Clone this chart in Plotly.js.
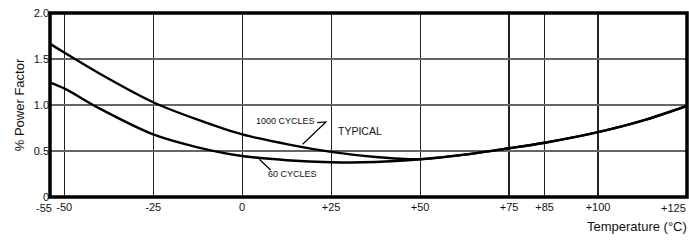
<!DOCTYPE html>
<html>
<head>
<meta charset="utf-8">
<script src="https://cdn.plot.ly/plotly-3.0.1.min.js"></script>
<style>
html,body{margin:0;padding:0;background:#fff;}
#chart{width:689px;height:240px;}
</style>
</head>
<body>
<div id="chart"></div>
<script>
// Data
const tempC   = [-55, -50, -40, -25, -12.5, 0, 12.5, 25, 37.5, 50, 62.5, 75, 85, 100, 112.5, 125];
const pf1000  = [1.69, 1.57, 1.34, 1.03, 0.84, 0.68, 0.575, 0.49, 0.435, 0.41, 0.46, 0.53, 0.59, 0.705, 0.83, 0.99];
const pf60    = [1.26, 1.18, 0.96, 0.68, 0.54, 0.445, 0.40, 0.378, 0.38, 0.41, 0.46, 0.53, 0.59, 0.705, 0.83, 0.99];

const xTickVals = [-50, -25, 0, 25, 50, 75, 85, 100, 125];
const xTickText = ['-50', '-25', '0', '+25', '+50', '+75', '+85', '+100', ''];
const xEdgeLabels = ['-55', '+125'];
const yTickVals = [0, 0.5, 1.0, 1.5, 2.0];
const yTickText = ['0', '0.5', '1.0', '1.5', '2.0'];

const seriesNames = ['1000 CYCLES', '60 CYCLES'];
const noteText = 'TYPICAL';
const xTitle = 'Temperature (°C)';
const yTitle = '% Power Factor';

const FONT = '"Liberation Sans Narrow", "Arial Narrow", "Liberation Sans", Arial, sans-serif';

const lineStyle = {color: '#000', width: 2.4, shape: 'spline', smoothing: 0.8};

const traces = [
  {x: tempC, y: pf1000, name: seriesNames[0], mode: 'lines', line: lineStyle, hoverinfo: 'skip'},
  {x: tempC, y: pf60, name: seriesNames[1], mode: 'lines', line: lineStyle, hoverinfo: 'skip'}
];

const tickFont = {family: FONT, size: 11, color: '#111'};

const layout = {
  width: 689, height: 240,
  margin: {l: 50, r: 2, t: 13, b: 43},
  paper_bgcolor: '#fff', plot_bgcolor: '#fff',
  showlegend: false,
  font: {family: FONT, size: 11, color: '#111'},
  xaxis: {
    range: [-54, 125],
    tickmode: 'array', tickvals: xTickVals, ticktext: xTickText,
    showgrid: true, gridcolor: '#222', gridwidth: 1.2,
    zeroline: false, showline: false, ticks: '',
    ticklabelstandoff: 2,
    tickfont: tickFont,
    fixedrange: true
  },
  yaxis: {
    range: [0, 2],
    tickmode: 'array', tickvals: yTickVals, ticktext: yTickText,
    showgrid: true, gridcolor: '#666', gridwidth: 1.2,
    zeroline: false, showline: false, ticks: '',
    tickfont: tickFont,
    title: {text: yTitle, font: {family: FONT, size: 13, color: '#111'}, standoff: 6},
    automargin: false,
    fixedrange: true
  },
  shapes: [
    {type: 'rect', xref: 'paper', yref: 'paper', x0: 0, x1: 1, y0: 0, y1: 1,
     line: {color: '#000', width: 3.5}, layer: 'above'},
    // leader lines for the curve labels
    {type: 'path', xref: 'x', yref: 'y', path: 'M 21.1 0.808 L 23.55 0.815 L 17.0 0.573',
     line: {color: '#000', width: 1.2}},
    {type: 'line', xref: 'x', yref: 'y', x0: 4.8, y0: 0.41, x1: 8.0, y1: 0.293,
     line: {color: '#000', width: 1.2}}
  ],
  annotations: [
    {xref: 'x', yref: 'y', x: 12.3, y: 0.826, text: seriesNames[0], showarrow: false,
     font: {family: FONT, size: 9, color: '#111'}},
    {xref: 'x', yref: 'y', x: 14.1, y: 0.247, text: seriesNames[1], showarrow: false,
     font: {family: FONT, size: 9, color: '#111'}},
    {xref: 'x', yref: 'y', x: 33.1, y: 0.717, text: noteText, showarrow: false,
     font: {family: FONT, size: 10.5, color: '#111'}},
    {xref: 'paper', yref: 'paper', x: 0, y: 0, xanchor: 'center', yanchor: 'top',
     xshift: -6, yshift: -3, text: xEdgeLabels[0], showarrow: false, font: tickFont},
    {xref: 'paper', yref: 'paper', x: 1, y: 0, xanchor: 'right', yanchor: 'top',
     xshift: 1, yshift: -3, text: xEdgeLabels[1], showarrow: false, font: tickFont},
    {xref: 'paper', yref: 'paper', x: 1, y: -0.158, xanchor: 'right', yanchor: 'middle',
     xshift: 2, text: xTitle, showarrow: false,
     font: {family: FONT, size: 13, color: '#111'}}
  ]
};

Plotly.newPlot('chart', traces, layout, {staticPlot: true, displayModeBar: false});
</script>
</body>
</html>
